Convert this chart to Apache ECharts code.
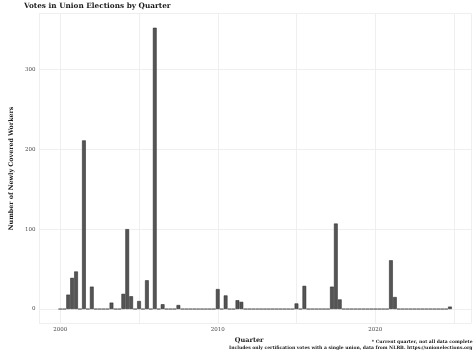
<!DOCTYPE html>
<html>
<head>
<meta charset="utf-8">
<script src="https://cdn.jsdelivr.net/npm/echarts@6/dist/echarts.min.js"></script>
<style>
  html, body { margin: 0; padding: 0; background: #fff; }
  #chart { width: 474px; height: 355px; }
</style>
</head>
<body>
<div id="chart"></div>
<script>
// quarterly counts, 2000 Q1 .. 2024 Q4 (four per row = one year)
const firstYear = 2000
const quarterly = [
  0, 0, 18, 39,     // 2000
  47, 0, 211, 0,    // 2001
  28, 0, 0, 0,      // 2002
  0, 8, 0, 0,       // 2003
  19, 100, 16, 0,   // 2004
  10, 0, 36, 0,     // 2005
  352, 0, 6, 0,     // 2006
  0, 0, 5, 0,       // 2007
  0, 0, 0, 0,       // 2008
  0, 0, 0, 0,       // 2009
  25, 0, 17, 0,     // 2010
  0, 11, 9, 0,      // 2011
  0, 0, 0, 0,       // 2012
  0, 0, 0, 0,       // 2013
  0, 0, 0, 0,       // 2014
  7, 0, 29, 0,      // 2015
  0, 0, 0, 0,       // 2016
  0, 28, 107, 12,   // 2017
  0, 0, 0, 0,       // 2018
  0, 0, 0, 0,       // 2019
  0, 0, 0, 0,       // 2020
  61, 15, 0, 0,     // 2021
  0, 0, 0, 0,       // 2022
  0, 0, 0, 0,       // 2023
  0, 0, 0, 3        // 2024 (current quarter)
]

const xLabels = [2000, 2010, 2020]
const xGrid = [2000, 2005, 2010, 2015, 2020, 2025]
const yLabels = [0, 100, 200, 300]
const yGrid = [0, 50, 100, 150, 200, 250, 300, 350]

const serif = '"DejaVu Serif", "Liberation Serif", serif'
const gridColor = '#ebebeb'

const chart = echarts.init(document.getElementById('chart'))

const barData = quarterly.map((v, i) => [firstYear + i / 4, v])

const option = {
  backgroundColor: '#fff',
  animation: false,
  title: {
    text: 'Votes in Union Elections by Quarter',
    left: 24,
    top: 3,
    padding: 0,
    textStyle: { fontFamily: serif, fontSize: 7.3, fontWeight: 'bold', color: '#1a1a1a' }
  },
  grid: {
    left: 24.5,
    right: 2.6,
    top: 13.7,
    bottom: 31.9,
    containLabel: false
  },
  xAxis: {
    type: 'value',
    min: 1998.64,
    max: 2026.11,
    name: 'Quarter',
    nameLocation: 'middle',
    nameGap: 11,
    nameTextStyle: { fontFamily: serif, fontSize: 6.5, fontWeight: 'bold', color: '#1a1a1a', padding: [0, 12, 0, 0] },
    axisLine: { show: false },
    axisTick: { show: false },
    axisLabel: {
      customValues: xLabels,
      formatter: v => String(v),
      fontFamily: serif,
      fontSize: 5.5,
      color: '#4d4d4d',
      margin: 3
    },
    splitLine: {
      show: true,
      customValues: xGrid,
      lineStyle: { color: gridColor, width: 0.8 }
    }
  },
  yAxis: {
    type: 'value',
    min: -17.6,
    max: 369.6,
    name: 'Number of Newly Covered Workers',
    nameLocation: 'middle',
    nameGap: 17,
    nameTextStyle: { fontFamily: serif, fontSize: 6.3, fontWeight: 'bold', color: '#1a1a1a' },
    axisLine: { show: false },
    axisTick: { show: false },
    axisLabel: {
      customValues: yLabels,
      fontFamily: serif,
      fontSize: 5.5,
      color: '#4d4d4d',
      margin: 3.5
    },
    splitLine: {
      show: true,
      customValues: yGrid,
      lineStyle: { color: gridColor, width: 0.8 }
    }
  },
  series: [{
    type: 'bar',
    data: barData,
    barWidth: 3.7,
    itemStyle: {
      color: '#555555',
      borderColor: '#222222',
      borderWidth: 0.5
    }
  }],
  graphic: [
    {
      type: 'text',
      right: 1.5,
      top: 339.5,
      style: {
        text: '* Current quarter, not all data complete',
        fontFamily: serif, fontSize: 4.5, fontWeight: 'bold', fill: '#1a1a1a', textAlign: 'right'
      }
    },
    {
      type: 'text',
      right: 1.5,
      top: 345,
      style: {
        text: 'Includes only certification votes with a single union, data from NLRB. https://unionelections.org',
        fontFamily: serif, fontSize: 4.5, fontWeight: 'bold', fill: '#1a1a1a', textAlign: 'right'
      }
    }
  ]
}

chart.setOption(option)
window.addEventListener('resize', () => chart.resize())
</script>
</body>
</html>
